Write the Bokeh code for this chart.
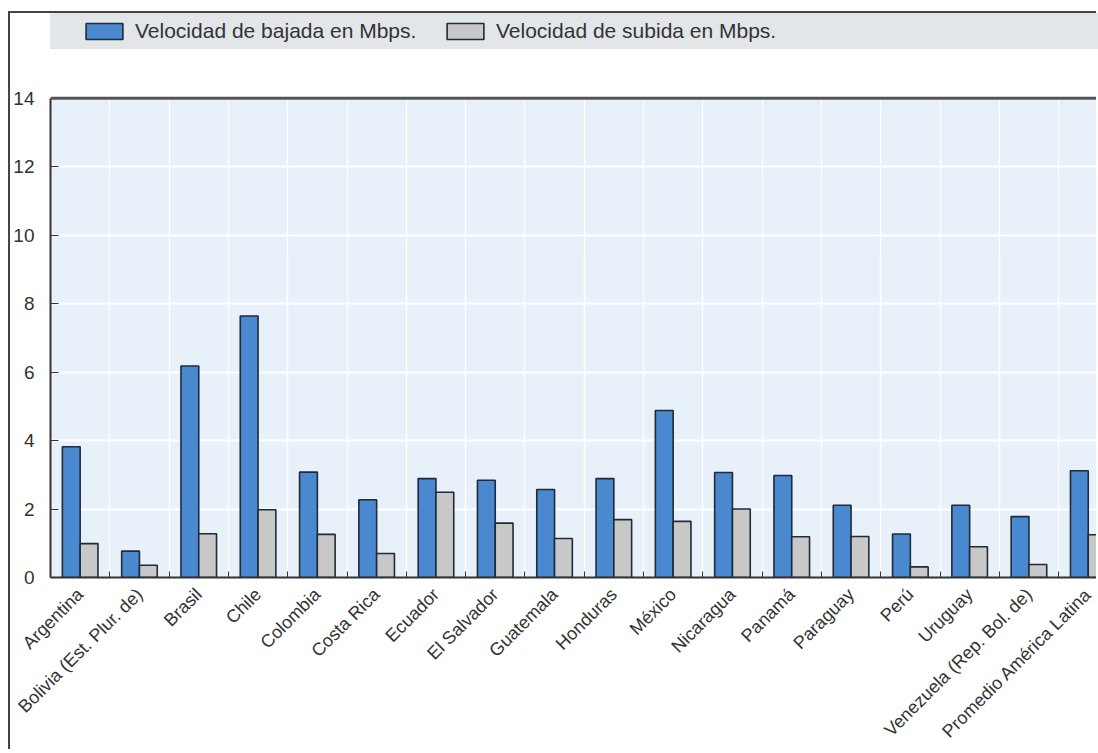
import numpy as np
from bokeh.plotting import figure
from bokeh.models import (ColumnDataSource, FixedTicker, Legend, LegendItem, Span,
                          CustomJSTickFormatter, Range1d)
from bokeh.embed import file_html
from bokeh.resources import INLINE

countries = ["Argentina", "Bolivia (Est. Plur. de)", "Brasil", "Chile", "Colombia",
             "Costa Rica", "Ecuador", "El Salvador", "Guatemala", "Honduras", "México",
             "Nicaragua", "Panamá", "Paraguay", "Perú", "Uruguay",
             "Venezuela (Rep. Bol. de)", "Promedio América Latina"]
bajada = [3.82, 0.77, 6.18, 7.64, 3.08, 2.27, 2.89, 2.84, 2.57, 2.89, 4.88, 3.07,
          2.98, 2.11, 1.27, 2.11, 1.78, 3.12]
subida = [0.99, 0.36, 1.28, 1.98, 1.26, 0.70, 2.49, 1.59, 1.14, 1.69, 1.64, 2.00,
          1.19, 1.20, 0.31, 0.90, 0.38, 1.25]
y_ticks = [0, 2, 4, 6, 8, 10, 12, 14]
legend_labels = ["Velocidad de bajada en Mbps.", "Velocidad de subida en Mbps."]

FONT = "Liberation Sans"
TXT = "#333333"
BLUE = "#4a88d0"
GREY = "#c8c8c8"
EDGE = "#1f2b38"

n = len(countries)
idx = np.arange(n)
y_max = y_ticks[-1]
src = ColumnDataSource(dict(x_b=idx - 0.15, x_s=idx + 0.15, bajada=bajada, subida=subida))

W, H = 1088, 738
frame_w = W - 40
frame_h = H - 173
plot_h = 480                      # pixel height of the 0..14 value area
cat_px = 59.3
x_end = -0.5 + frame_w / cat_px
p = figure(width=W, height=H, output_backend="svg", toolbar_location=None,
           x_range=Range1d(-0.5, x_end),
           y_range=Range1d(0, y_max * frame_h / plot_h),
           min_border_left=40, min_border_right=0, min_border_top=0, min_border_bottom=173)
p.styles = {"border-left": "2px solid #444444", "border-top": "2px solid #444444",
            "margin-top": "11px", "margin-left": "8px"}
p.background_fill_color = "white"
p.border_fill_color = "white"
p.outline_line_color = None

# light blue plotting area (0..14) under the grid
p.quad(left=[-0.5], right=[x_end], bottom=[0], top=[y_max], fill_color="#e8f0fa",
       line_color=None, level="image")

r1 = p.vbar(x="x_b", top="bajada", width=0.3, bottom=0, source=src,
            fill_color=BLUE, line_color=EDGE, line_width=1.6)
r2 = p.vbar(x="x_s", top="subida", width=0.3, bottom=0, source=src,
            fill_color=GREY, line_color=EDGE, line_width=1.6)
dummy = p.vbar(x=[0], top=[0], width=0.0, fill_alpha=0, line_alpha=0)

boundaries = list(idx - 0.5) + [n - 0.5]

# x axis
xa = p.xaxis[0]
xa.ticker = FixedTicker(ticks=list(idx), minor_ticks=boundaries)
xa.formatter = CustomJSTickFormatter(args=dict(names=countries), code="""
const i = Math.round(tick);
return (i >= 0 && i < names.length) ? names[i] : '';
""")
xa.major_label_orientation = np.pi / 4
xa.major_tick_in = 0
xa.major_tick_out = 0
xa.minor_tick_in = 6
xa.minor_tick_out = 0
xa.minor_tick_line_color = "#333333"
xa.axis_line_color = "#333333"
xa.axis_line_width = 2
xa.major_label_standoff = 14
xa.major_label_text_font = FONT
xa.major_label_text_font_size = "18px"
xa.major_label_text_color = TXT

# y axis
ya = p.yaxis[0]
ya.ticker = FixedTicker(ticks=y_ticks, minor_ticks=[])
ya.bounds = (0, y_max)
ya.major_tick_in = 8
ya.major_tick_out = 0
ya.major_tick_line_color = "#333333"
ya.axis_line_color = "#333333"
ya.axis_line_width = 2
ya.major_label_standoff = 16
ya.major_label_text_font = FONT
ya.major_label_text_font_size = "19px"
ya.major_label_text_color = TXT

# top line of the plotting area
p.add_layout(Span(location=y_max, dimension="width", line_color="#555555", line_width=3))

# grids
p.xgrid.ticker = FixedTicker(ticks=boundaries)
p.xgrid.bounds = (0, y_max)
p.xgrid.grid_line_color = "white"
p.xgrid.grid_line_width = 1.5
p.ygrid.ticker = FixedTicker(ticks=y_ticks)
p.ygrid.grid_line_color = "white"
p.ygrid.grid_line_width = 2

legend = Legend(items=[LegendItem(label=legend_labels[0], renderers=[r1]),
                       LegendItem(label=legend_labels[1], renderers=[r2]),
                       LegendItem(label=" ", renderers=[dummy])],
                location=(-2, frame_h - 37), orientation="horizontal",
                background_fill_color="#e3e6e8", background_fill_alpha=1,
                border_line_color=None, padding=0, spacing=12,
                glyph_width=46, glyph_height=20, label_standoff=8, label_width=295,
                label_height=36,
                label_text_font=FONT, label_text_font_size="21px", label_text_color=TXT,
                title=" ", title_location="left", title_text_font_size="20px",
                title_standoff=10, margin=0)
p.add_layout(legend)

open("out.html", "w").write(file_html(p, INLINE))
